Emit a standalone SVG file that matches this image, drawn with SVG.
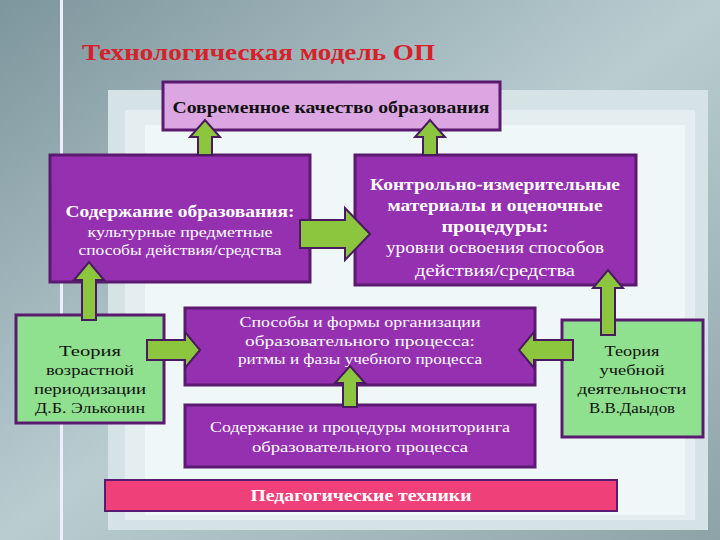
<svg xmlns="http://www.w3.org/2000/svg" width="720" height="540" viewBox="0 0 720 540">
<defs>
<linearGradient id="bg" x1="0" y1="0" x2="1" y2="1"><stop offset="0" stop-color="#7d959c"/><stop offset="0.5" stop-color="#b9cdd1"/><stop offset="1" stop-color="#8ea3a8"/></linearGradient>
<style>
.pb{fill:#9530b0;stroke:#5a1a70;stroke-width:3}
.gb{fill:#8fe08f;stroke:#5a1a70;stroke-width:3}
.ar{fill:#8cc63f;stroke:#4a1a60;stroke-width:2}
.w{fill:#fff;font-family:"Liberation Serif",serif;text-anchor:middle}
.k{fill:#111;font-family:"Liberation Serif",serif;text-anchor:middle}
text{lengthAdjust:spacingAndGlyphs}
</style>
</defs>
<rect width="720" height="540" fill="url(#bg)"/>
<rect x="60" y="0" width="3" height="540" fill="#eef"/>
<rect x="108" y="90" width="600" height="440" fill="#d5e3e6"/>
<rect x="125" y="110" width="570" height="410" fill="#e4eef0"/>
<rect x="145" y="125" width="540" height="390" fill="#f0f7f8"/>
<text x="82" y="60" font-family="Liberation Serif,serif" font-size="23" font-weight="bold" fill="#d8202a" textLength="353" lengthAdjust="spacingAndGlyphs">Технологическая  модель  ОП</text>
<g id="top"><rect x="163" y="82" width="337" height="48" fill="#dba6e2" stroke="#5a1a70" stroke-width="3"/><text class="k" x="331" y="113" font-size="16" font-weight="bold" textLength="317" lengthAdjust="spacingAndGlyphs">Современное  качество образования</text></g>
<g id="left"><rect class="pb" x="50" y="155" width="260" height="127"/><text class="w" x="180" y="217" font-size="17" font-weight="bold" textLength="229" lengthAdjust="spacingAndGlyphs">Содержание образования:</text><text class="w" x="180" y="237" font-size="14" textLength="185" lengthAdjust="spacingAndGlyphs">культурные  предметные</text><text class="w" x="180" y="255" font-size="14" textLength="203" lengthAdjust="spacingAndGlyphs">способы действия/средства</text></g>
<g id="right"><rect class="pb" x="355" y="155" width="281" height="130"/><text class="w" x="495" y="190" font-size="17" font-weight="bold" textLength="250" lengthAdjust="spacingAndGlyphs">Контрольно-измерительные</text><text class="w" x="495" y="211" font-size="17" font-weight="bold" textLength="215" lengthAdjust="spacingAndGlyphs">материалы и оценочные</text><text class="w" x="495" y="232" font-size="17" font-weight="bold" textLength="107" lengthAdjust="spacingAndGlyphs">процедуры:</text><text class="w" x="495" y="253" font-size="16" textLength="218" lengthAdjust="spacingAndGlyphs">уровни освоения способов</text><text class="w" x="495" y="276" font-size="16" textLength="160" lengthAdjust="spacingAndGlyphs">действия/средства</text></g>
<g id="mid"><rect class="pb" x="185" y="308" width="350" height="77"/><text class="w" x="360" y="327" font-size="15" textLength="241" lengthAdjust="spacingAndGlyphs">Способы и формы организации</text><text class="w" x="360" y="346" font-size="15" textLength="230" lengthAdjust="spacingAndGlyphs">образовательного  процесса:</text><text class="w" x="360" y="364" font-size="14" textLength="244" lengthAdjust="spacingAndGlyphs">ритмы и фазы  учебного процесса</text></g>
<g id="mon"><rect class="pb" x="185" y="405" width="350" height="62"/><text class="w" x="360" y="432" font-size="14" textLength="300" lengthAdjust="spacingAndGlyphs">Содержание и  процедуры  мониторинга</text><text class="w" x="360" y="452" font-size="14" textLength="216" lengthAdjust="spacingAndGlyphs">образовательного процесса</text></g>
<g id="gl"><rect class="gb" x="16" y="315" width="148" height="108"/><text class="k" x="90" y="356" font-size="15" textLength="62" lengthAdjust="spacingAndGlyphs">Теория</text><text class="k" x="90" y="375" font-size="15" textLength="88" lengthAdjust="spacingAndGlyphs">возрастной</text><text class="k" x="90" y="394" font-size="15" textLength="112" lengthAdjust="spacingAndGlyphs">периодизации</text><text class="k" x="90" y="413" font-size="15" textLength="110" lengthAdjust="spacingAndGlyphs">Д.Б. Эльконин</text></g>
<g id="gr"><rect class="gb" x="562" y="320" width="141" height="117"/><text class="k" x="632" y="356" font-size="15" textLength="55" lengthAdjust="spacingAndGlyphs">Теория</text><text class="k" x="632" y="375" font-size="15" textLength="65" lengthAdjust="spacingAndGlyphs">учебной</text><text class="k" x="632" y="394" font-size="15" textLength="109" lengthAdjust="spacingAndGlyphs">деятельности</text><text class="k" x="632" y="413" font-size="15" textLength="86" lengthAdjust="spacingAndGlyphs">В.В.Даыдов</text></g>
<g id="pink"><rect x="105" y="480" width="512" height="31" fill="#f0407a" stroke="#5a1a70" stroke-width="2"/><text x="361" y="501" font-family="Liberation Serif,serif" font-size="16" font-weight="bold" fill="#fff" text-anchor="middle" textLength="221" lengthAdjust="spacingAndGlyphs">Педагогические  техники</text></g>
<g id="connectors">
<polygon class="ar" points="198,155 198,137 190,137 205,120 220,137 212,137 212,155"/>
<polygon class="ar" points="423,155 423,137 415,137 430,120 445,137 437,137 437,155"/>
<polygon class="ar" points="300,220 345,220 345,208 370,234 345,260 345,248 300,248"/>
<polygon class="ar" points="82,320 82,280 74,280 89,262 104,280 96,280 96,320"/>
<polygon class="ar" points="601,335 601,288 593,288 608,270 623,288 615,288 615,335"/>
<polygon class="ar" points="147,340 185,340 185,332 200,350 185,368 185,360 147,360"/>
<polygon class="ar" points="573,340 534,340 534,332 519,350 534,368 534,360 573,360"/>
<polygon class="ar" points="343,407 343,383 335,383 350,366 365,383 357,383 357,407"/>
</g>
</svg>
